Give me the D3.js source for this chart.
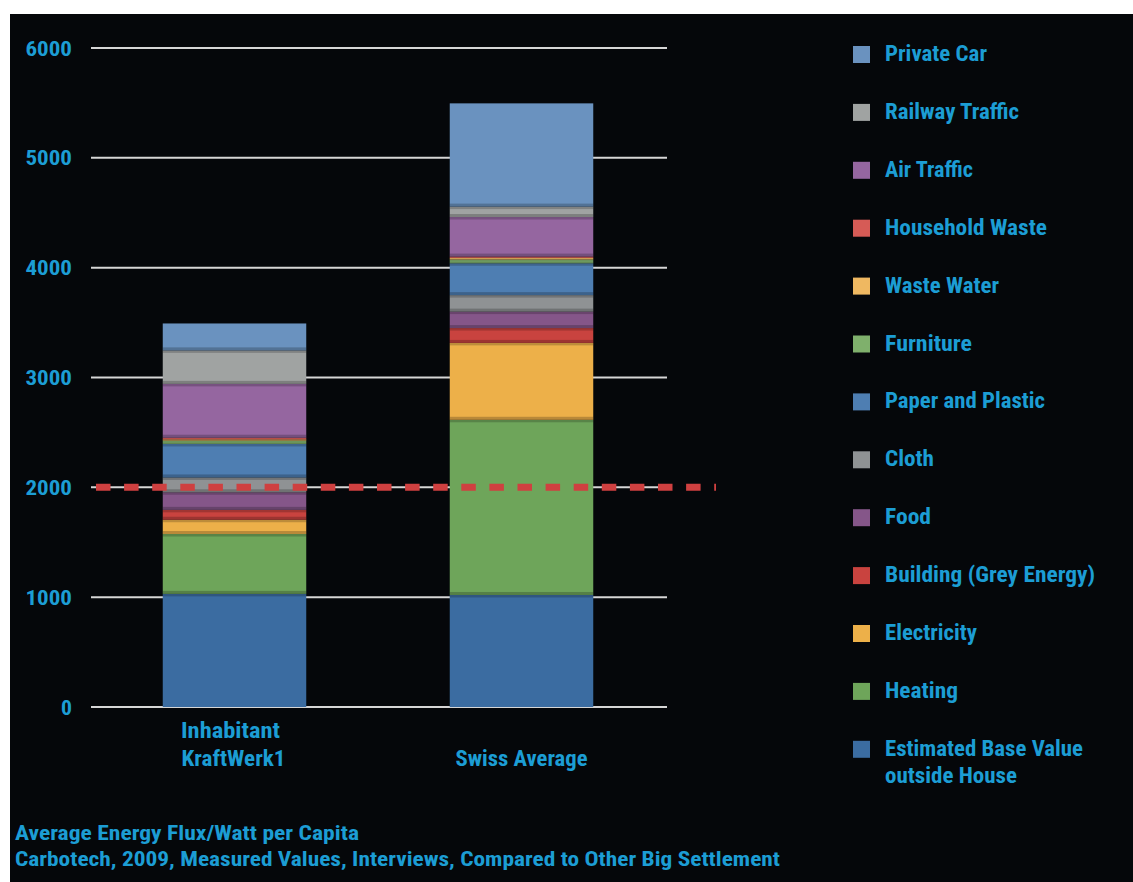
<!DOCTYPE html>
<html>
<head>
<meta charset="utf-8">
<script src="https://cdn.jsdelivr.net/npm/d3@7"></script>
<style>
  html, body { margin: 0; padding: 0; background: #ffffff; }
  svg { display: block; }
  text { font-family: "Liberation Sans Narrow", "Roboto Condensed", "Liberation Sans", "Open Sans", sans-serif; font-weight: bold; fill: #1c9dd4; }
</style>
</head>
<body>
<svg id="chart" width="1133" height="882"></svg>
<script>
// ---------- data ----------
const categories = ["Inhabitant KraftWerk1", "Swiss Average"];
const categoryLines = [["Inhabitant", "KraftWerk1"], ["Swiss Average"]];
// stacked bottom -> top
const seriesNames = [
  "Estimated Base Value outside House", "Heating", "Electricity", "Building (Grey Energy)",
  "Food", "Cloth", "Paper and Plastic", "Furniture", "Waste Water", "Household Waste",
  "Air Traffic", "Railway Traffic", "Private Car"
];
const kraftwerkValues = [1030, 545, 130, 90, 160, 135, 305, 30, 12, 15, 490, 305, 245];
const swissValues     = [1020, 1595, 700, 135, 150, 150, 290, 34, 15, 12, 360, 95, 940];
const yTicks = [0, 1000, 2000, 3000, 4000, 5000, 6000];
const targetValue = 2000;
const footerLines = [
  "Average Energy Flux/Watt per Capita",
  "Carbotech, 2009, Measured Values, Interviews, Compared to Other Big Settlement"
];

// ---------- styles ----------
const seriesColors = [
  "#3b6ca1", "#6ea55a", "#edb049", "#c9433f", "#855689", "#8f9294", "#4e7eb2",
  "#7fb06c", "#efb861", "#d65b56", "#9566a0", "#a0a3a2", "#6a92bf"
];
const legendLines = {
  "Estimated Base Value outside House": ["Estimated Base Value", "outside House"]
};
const legendWidths = {
  "Private Car": 102, "Railway Traffic": 134, "Air Traffic": 88, "Household Waste": 162,
  "Waste Water": 114, "Furniture": 87, "Paper and Plastic": 160, "Cloth": 49, "Food": 46,
  "Building (Grey Energy)": 210, "Electricity": 92, "Heating": 73,
  "Estimated Base Value": 198, "outside House": 132
};

const svg = d3.select("#chart");
// black panel
svg.append("rect").attr("x", 10).attr("y", 14).attr("width", 1123).attr("height", 868).attr("fill", "#05070a");

const x = d3.scaleBand().domain(categories).range([91, 665]).paddingInner(0.5).paddingOuter(0.25);
const y = d3.scaleLinear().domain([0, 6000]).range([707, 48]);

// gridlines
svg.append("g").selectAll("line").data(yTicks).join("line")
  .attr("x1", 91).attr("x2", 667)
  .attr("y1", d => y(d)).attr("y2", d => y(d))
  .attr("stroke", "#d6d6d6").attr("stroke-width", 2);

// tick labels
const tickWidth = d => d === 0 ? 11 : 46.5;
svg.append("g").selectAll("text").data(yTicks).join("text")
  .attr("x", 72).attr("y", d => y(d) + 7.5)
  .attr("text-anchor", "end")
  .attr("font-size", 21)
  .attr("textLength", tickWidth).attr("lengthAdjust", "spacingAndGlyphs")
  .text(d => d);

// stacked bars
const rows = categories.map((c, i) => {
  const o = { category: c };
  seriesNames.forEach((s, j) => { o[s] = i === 0 ? kraftwerkValues[j] : swissValues[j]; });
  return o;
});
const stack = d3.stack().keys(seriesNames)(rows);
const topLayer = seriesNames.length - 1;
const gBars = svg.append("g");
stack.forEach((layer, li) => {
  layer.forEach(seg => {
    const x0 = x(seg.data.category), w = x.bandwidth();
    const yTop = y(seg[1]), yBot = y(seg[0]);
    const h = yBot - yTop;
    gBars.append("rect").attr("x", x0).attr("y", yTop).attr("width", w).attr("height", h)
      .attr("fill", seriesColors[li]);
    if (li > 0) {
      const sh = Math.min(3, h / 2);
      gBars.append("rect").attr("x", x0).attr("y", yBot - sh).attr("width", w).attr("height", sh)
        .attr("fill", "#000").attr("opacity", 0.22);
    }
    if (li < topLayer) {
      gBars.append("rect").attr("x", x0).attr("y", yTop).attr("width", w).attr("height", Math.min(2.5, h / 3))
        .attr("fill", "#000").attr("opacity", 0.2);
    }
  });
});

// dashed target line
svg.append("line")
  .attr("x1", 96).attr("x2", 716)
  .attr("y1", y(targetValue)).attr("y2", y(targetValue))
  .attr("stroke", "#cf4040").attr("stroke-width", 7)
  .attr("stroke-dasharray", "14.5,13.6");

// category labels
categories.forEach((c, i) => {
  const lines = categoryLines[i];
  const cx = x(c) + x.bandwidth() / 2;
  const widths = i === 0 ? [99, 104] : [132];
  const offsetX = i === 0 ? [-4, -1] : [0];
  lines.forEach((t, k) => {
    const baseY = lines.length === 2 ? 738 + k * 28 : 766;
    svg.append("text").attr("x", cx + offsetX[k]).attr("y", baseY)
      .attr("text-anchor", "middle").attr("font-size", 22)
      .attr("textLength", widths[k]).attr("lengthAdjust", "spacingAndGlyphs")
      .text(t);
  });
});

// legend (top -> bottom is reverse of stack order)
const legendOrder = seriesNames.slice().reverse();
const legendColors = seriesColors.slice().reverse();
const gLeg = svg.append("g");
legendOrder.forEach((name, i) => {
  const top = 46 + i * 57.9;
  gLeg.append("rect").attr("x", 853).attr("y", top).attr("width", 17).attr("height", 17)
    .attr("fill", legendColors[i]);
  const lines = legendLines[name] || [name];
  lines.forEach((t, k) => {
    gLeg.append("text").attr("x", 885).attr("y", top + 15 + k * 27)
      .attr("font-size", 22)
      .attr("textLength", legendWidths[t]).attr("lengthAdjust", "spacingAndGlyphs")
      .text(t);
  });
});

// footer
const footerWidths = [344, 765];
footerLines.forEach((t, i) => {
  svg.append("text").attr("x", 15).attr("y", 840 + i * 26)
    .attr("font-size", 21)
    .attr("textLength", footerWidths[i]).attr("lengthAdjust", "spacingAndGlyphs")
    .text(t);
});
</script>
</body>
</html>
